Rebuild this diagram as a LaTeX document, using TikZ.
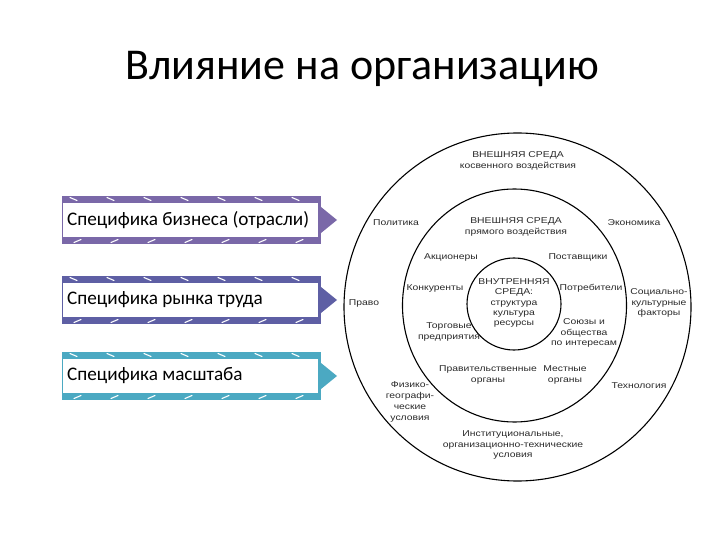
\documentclass[tikz,border=0pt]{standalone}
\usepackage{fontspec}
\setmainfont{Liberation Sans}
\newfontfamily\calib{Carlito}
\definecolor{bandA}{HTML}{7A68A8}
\definecolor{bandB}{HTML}{5E5FA4}
\definecolor{bandC}{HTML}{4BA9C2}
\definecolor{dtext}{HTML}{2A2A2A}
\tikzset{
  lbl/.style={font=\fontsize{8.5}{10.8}\selectfont\addfontfeatures{FakeStretch=1.22}, text=dtext, align=center, inner sep=0pt},
  ring/.style={draw=black, line width=1.1pt},
  boxtxt/.style={font=\calib\fontsize{19.2}{22}\selectfont, anchor=west, inner sep=0pt, text=black},
  tick/.style={draw=white, line width=1.1pt, line cap=round}
}
\begin{document}
\begin{tikzpicture}[x=1pt,y=-1pt]
\useasboundingbox (0,0) rectangle (720,540);
\fill[white] (0,0) rectangle (720,540);
\node[font=\calib\fontsize{44}{50}\selectfont] (title) at (362,69) {Влияние на организацию};

% arrows
\foreach \yy/\col/\txt/\nm in {220/bandA/{Специфика бизнеса (отрасли)}/a1, 300/bandB/{Специфика рынка труда}/a2, 376/bandC/{Специфика масштаба}/a3}{
  \fill[\col] (62,\yy-24) rectangle (321,\yy+24);
  \fill[\col] (321,\yy-13) -- (337,\yy) -- (321,\yy+13) -- cycle;
  \foreach \tx in {70,107,144,181,218,255,292}{
    \draw[tick] (\tx,\yy-22.5) -- (\tx+7,\yy-19.5);
    \draw[tick] (\tx+4,\yy+22.5) -- (\tx+11,\yy+19.5);
  }
  \fill[white] (63,\yy-17) rectangle (318,\yy+17);
  \node[boxtxt] (\nm) at (67,\yy) {\txt};
}

% rings
\draw[ring] (517.5,307) ellipse [x radius=173.5, y radius=174];
\draw[ring] (514.5,305.5) ellipse [x radius=112, y radius=116.5];
\draw[ring] (514,304) ellipse [x radius=47, y radius=46];

% labels
\node[lbl] (ind) at (518,161) {ВНЕШНЯЯ СРЕДА\\косвенного воздействия};
\node[lbl] (pol) at (396,223) {Политика};
\node[lbl] (eco) at (634,223) {Экономика};
\node[lbl] (dir) at (516,227) {ВНЕШНЯЯ СРЕДА\\прямого воздействия};
\node[lbl] (sha) at (451,257) {Акционеры};
\node[lbl] (sup) at (578,257) {Поставщики};
\node[lbl] (kon) at (435,288) {Конкуренты};
\node[lbl] (pot) at (591,288) {Потребители};
\node[lbl] (law) at (364,303) {Право};
\node[lbl] (soc) at (659,303) {Социально-\\культурные\\факторы};
\node[lbl, font=\fontsize{8.5}{10.4}\selectfont\addfontfeatures{FakeStretch=1.22}] (inn) at (514,303) {ВНУТРЕННЯЯ\\СРЕДА:\\структура\\культура\\ресурсы};
\node[lbl] (trd) at (449,332) {Торговые\\предприятия};
\node[lbl] (uni) at (584,333) {Союзы и\\общества\\по интересам};
\node[lbl] (gov) at (488,375) {Правительственные\\органы};
\node[lbl] (loc) at (565,375) {Местные\\органы};
\node[lbl] (geo) at (410,402) {Физико-\\географи-\\ческие\\условия};
\node[lbl] (tec) at (639,386) {Технология};
\node[lbl] (ins) at (513,445) {Институциональные,\\организационно-технические\\условия};
\end{tikzpicture}
\end{document}
